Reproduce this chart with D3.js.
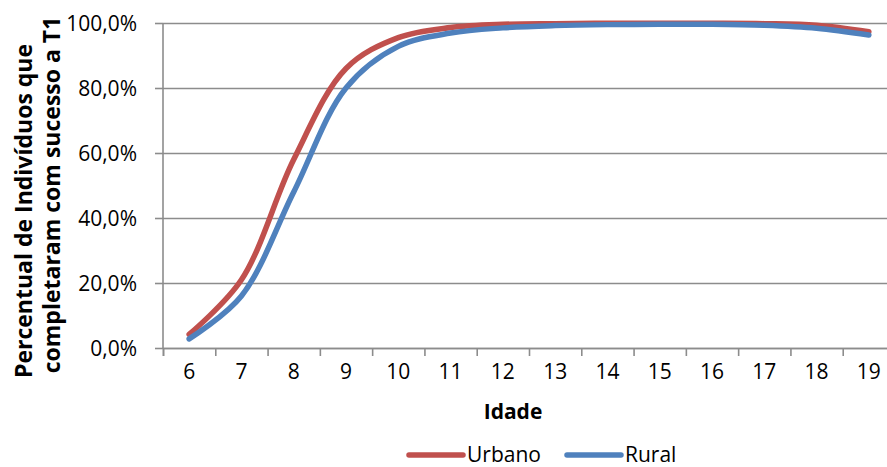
<!DOCTYPE html>
<html>
<head>
<meta charset="utf-8">
<script src="https://cdn.jsdelivr.net/npm/d3@7"></script>
<style>
  body { margin: 0; background: #fff; }
  text { font-family: "Open Sans", sans-serif; fill: #000; }
</style>
</head>
<body>
<div id="chart"></div>
<script>
// data
var idades = ["6","7","8","9","10","11","12","13","14","15","16","17","18","19"];
var urbano = [4.2, 21, 58, 86, 95.5, 98.6, 99.6, 99.8, 99.9, 99.9, 99.9, 99.8, 99.3, 97.3];
var rural  = [2.8, 16, 48, 80, 92.8, 96.9, 98.5, 99.2, 99.5, 99.6, 99.6, 99.3, 98.4, 96.3];
var yTicks = [0, 20, 40, 60, 80, 100];

var W = 887, H = 467;
var plot = {left: 163, right: 895, top: 23, bottom: 348};
var gridColor = "#8c8c8c";

var svg = d3.select("#chart")
  .append("svg")
    .attr("width", W)
    .attr("height", H);

// scales
var x = d3.scaleBand()
  .domain(idades)
  .range([plot.left, plot.right]);

var xEdge = d3.scaleLinear()
  .domain([0, idades.length])
  .range([plot.left, plot.right]);

var y = d3.scaleLinear()
  .domain([0, 100])
  .range([plot.bottom, plot.top]);

// gridlines + y labels
var yAxis = svg.append("g")
  .attr("transform", `translate(${plot.left},0)`)
  .call(d3.axisLeft(y)
    .tickValues(yTicks)
    .tickSizeInner(-(plot.right - plot.left))
    .tickSizeOuter(0)
    .tickPadding(26)
    .tickFormat(d => d.toFixed(1).replace(".", ",") + "%"));
yAxis.select(".domain").remove();
yAxis.selectAll("line").attr("stroke", gridColor).attr("stroke-width", 1.6);
yAxis.selectAll("text").style("font-size", "21px").attr("dy", "0.35em");

// small ticks left of the axis
svg.append("g")
  .attr("transform", `translate(${plot.left},0)`)
  .call(d3.axisLeft(y).tickValues(yTicks).tickSize(8).tickFormat(""))
  .call(g => g.selectAll("line").attr("stroke", gridColor).attr("stroke-width", 1.6))
  .call(g => g.select(".domain").attr("stroke", gridColor).attr("stroke-width", 1.6).attr("d", `M0,${plot.top}V${plot.bottom}`));

// x axis line and ticks between categories
svg.append("g")
  .attr("transform", `translate(0,${plot.bottom})`)
  .call(d3.axisBottom(xEdge).tickValues(d3.range(idades.length + 1)).tickSize(8).tickFormat(""))
  .call(g => g.selectAll("line").attr("stroke", gridColor).attr("stroke-width", 1.6))
  .call(g => g.select(".domain").attr("stroke", gridColor).attr("stroke-width", 1.6));

// x labels
var xAxis = svg.append("g")
  .attr("transform", `translate(0,${plot.bottom})`)
  .call(d3.axisBottom(x).tickSize(0).tickPadding(24));
xAxis.select(".domain").remove();
xAxis.selectAll("text").style("font-size", "21px").attr("dy", "0.35em");

// axis titles
svg.append("text")
  .attr("x", 513)
  .attr("y", 412)
  .attr("dy", "0.35em")
  .attr("text-anchor", "middle")
  .style("font-size", "21px")
  .style("font-weight", "bold")
  .text("Idade");

var yTitle = [
  {text: "Percentual de Indivíduos que", cy: 211, base: 32},
  {text: "completaram com sucesso a T1", cy: 195, base: 60}
];
svg.selectAll("text.ytitle")
  .data(yTitle)
  .join("text")
    .attr("class", "ytitle")
    .attr("transform", "rotate(-90)")
    .attr("x", d => -d.cy)
    .attr("y", d => d.base)
    .attr("text-anchor", "middle")
    .style("font-size", "23px")
    .style("font-weight", "bold")
    .text(d => d.text);

// lines
var line = d3.line()
  .x((d, i) => x(idades[i]) + x.bandwidth() / 2)
  .y(d => y(d))
  .curve(d3.curveCatmullRom.alpha(0.5));

var series = [
  {name: "Urbano", values: urbano, color: "#C0504D"},
  {name: "Rural", values: rural, color: "#4F81BD"}
];

svg.selectAll("path.serie")
  .data(series)
  .join("path")
    .attr("class", "serie")
    .attr("d", d => line(d.values))
    .attr("fill", "none")
    .attr("stroke", d => d.color)
    .attr("stroke-width", 5.5)
    .attr("stroke-linecap", "round");

// legend
var legX = [409, 567];
var leg = svg.selectAll("g.leg")
  .data(series)
  .join("g")
    .attr("class", "leg")
    .attr("transform", (d, i) => `translate(${legX[i]},455)`);
leg.append("line")
  .attr("x1", 0).attr("x2", 54)
  .attr("stroke", d => d.color)
  .attr("stroke-width", 5.5)
  .attr("stroke-linecap", "round");
leg.append("text")
  .attr("x", 58)
  .attr("dy", "0.35em")
  .style("font-size", "21px")
  .text(d => d.name);
</script>
</body>
</html>
